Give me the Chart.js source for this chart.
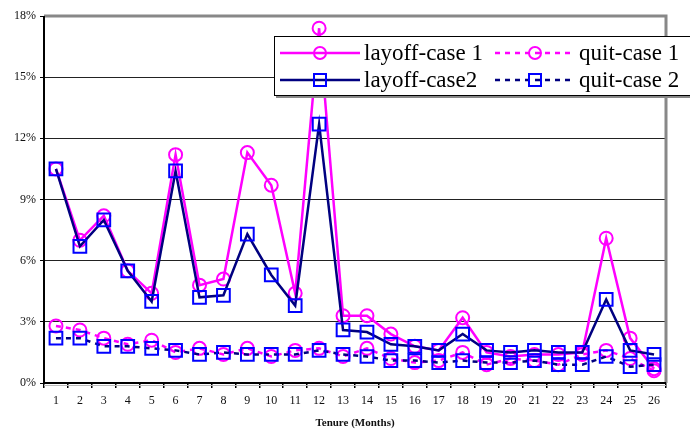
<!DOCTYPE html>
<html>
<head>
<meta charset="utf-8">
<script src="https://cdn.jsdelivr.net/npm/chart.js@4.4.1/dist/chart.umd.min.js"></script>
<style>
    html, body { margin: 0; padding: 0; background: #fff; }
    #wrap { position: relative; width: 690px; height: 430px; overflow: hidden; }
    #legend {
        position: absolute; left: 274px; top: 36px; width: 430px; height: 58px;
        background: #fff; border: 1px solid #000;
        box-shadow: 2px 2px 0 #888;
        font-family: "Liberation Serif", "Times New Roman", serif; font-size: 23px; color: #000;
    }
    .item { position: absolute; display: flex; align-items: center; height: 28px; }
    .item svg { margin-right: 4px; }
</style>
</head>
<body>
<div id="wrap">
    <canvas id="chart" width="690" height="430"></canvas>
    <div id="legend"></div>
</div>
<script>
// ===============================
// DATA
// ===============================
const months = ["1","2","3","4","5","6","7","8","9","10","11","12","13",
                "14","15","16","17","18","19","20","21","22","23","24","25","26"];

const layoffCase1 = [10.5, 7.0, 8.2, 5.5, 4.4, 11.2, 4.8, 5.1, 11.3, 9.7, 4.4, 17.4, 3.3,
                     3.3, 2.4, 1.8, 1.6, 3.2, 1.5, 1.3, 1.4, 1.4, 1.5, 7.1, 2.2, 0.7];
const quitCase1   = [2.8, 2.6, 2.2, 1.9, 2.1, 1.5, 1.7, 1.4, 1.7, 1.3, 1.6, 1.7, 1.3,
                     1.7, 1.2, 1.0, 1.1, 1.5, 0.9, 1.2, 1.1, 0.9, 1.4, 1.6, 1.2, 0.6];
const layoffCase2 = [10.5, 6.7, 8.0, 5.5, 4.0, 10.4, 4.2, 4.3, 7.3, 5.3, 3.8, 12.7, 2.6,
                     2.5, 1.9, 1.8, 1.6, 2.4, 1.6, 1.5, 1.6, 1.5, 1.5, 4.1, 1.6, 1.4];
const quitCase2   = [2.2, 2.2, 1.8, 1.8, 1.7, 1.6, 1.4, 1.5, 1.4, 1.4, 1.4, 1.6, 1.4,
                     1.3, 1.1, 1.1, 1.0, 1.1, 1.0, 1.0, 1.1, 0.9, 0.9, 1.3, 0.8, 0.9];

const yTicks = [0, 3, 6, 9, 12, 15, 18];

const MAGENTA = "#ff00ff";
const NAVY = "#000080";
const BLUE = "#0000ff";
const SERIF = '"Liberation Serif", "Times New Roman", serif';

// ===============================
// SERIES
// ===============================
function circleSeries(label, data, dash, order) {
    return {
        label, data, order,
        borderColor: MAGENTA,
        borderWidth: 2.5,
        borderDash: dash,
        pointStyle: "circle",
        pointRadius: 6.5,
        pointBorderWidth: 2,
        pointBorderColor: MAGENTA,
        pointBackgroundColor: "rgba(0,0,0,0)",
        tension: 0,
        fill: false
    };
}

function squareSeries(label, data, dash, order) {
    return {
        label, data, order,
        borderColor: NAVY,
        borderWidth: 2.5,
        borderDash: dash,
        pointStyle: "rect",
        pointRadius: 9,
        pointBorderWidth: 2,
        pointBorderColor: BLUE,
        pointBackgroundColor: "rgba(0,0,0,0)",
        tension: 0,
        fill: false
    };
}

// frame: gray top/right border, black left/bottom axes
const framePlugin = {
    id: "frame",
    beforeDatasetsDraw(chart) {
        const { ctx, chartArea: a } = chart;
        ctx.save();
        ctx.strokeStyle = "#888";
        ctx.lineWidth = 3;
        ctx.beginPath();
        ctx.moveTo(a.left, a.top);
        ctx.lineTo(a.right, a.top);
        ctx.lineTo(a.right, a.bottom);
        ctx.stroke();
        ctx.strokeStyle = "#bbb";
        ctx.lineWidth = 1;
        ctx.beginPath();
        ctx.moveTo(a.left, a.bottom + 2.5);
        ctx.lineTo(a.right, a.bottom + 2.5);
        ctx.stroke();
        ctx.strokeStyle = "#000";
        ctx.lineWidth = 2;
        ctx.beginPath();
        ctx.moveTo(a.left, a.top);
        ctx.lineTo(a.left, a.bottom);
        ctx.lineTo(a.right, a.bottom);
        ctx.stroke();
        ctx.restore();
    }
};

new Chart(document.getElementById("chart"), {
    type: "line",
    data: {
        labels: months,
        datasets: [
            circleSeries("layoff-case 1", layoffCase1, [], 2),
            circleSeries("quit-case 1", quitCase1, [5, 5], 3),
            squareSeries("layoff-case2", layoffCase2, [], 0),
            squareSeries("quit-case 2", quitCase2, [5, 5], 1)
        ]
    },
    options: {
        responsive: false,
        animation: false,
        layout: { padding: { left: 0, right: 24, top: 16, bottom: 0 } },
        plugins: {
            legend: { display: false },
            tooltip: { enabled: false }
        },
        scales: {
            x: {
                offset: true,
                grid: { offset: true, drawOnChartArea: false, drawTicks: true, tickLength: 5, color: "#000", lineWidth: 1.5 },
                border: { display: false },
                ticks: { color: "#111", font: { family: SERIF, size: 12 }, padding: 6, maxRotation: 0, autoSkip: false },
                title: { display: true, text: "Tenure (Months)", color: "#111", font: { family: SERIF, size: 11, weight: "bold" }, padding: { top: 4, bottom: 0 } },
                afterFit(scale) { scale.height = 47; }
            },
            y: {
                min: 0,
                max: 18,
                afterBuildTicks(scale) { scale.ticks = yTicks.map(v => ({ value: v })); },
                grid: {
                    color: ctx => (ctx.tick && (ctx.tick.value === 0 || ctx.tick.value === 18)) ? "rgba(0,0,0,0)" : "#222",
                    lineWidth: 1,
                    tickColor: "#000",
                    tickLength: 4
                },
                border: { display: false },
                ticks: { color: "#111", font: { family: SERIF, size: 12 }, padding: 4, callback: v => v + "%" },
                afterFit(scale) { scale.width = 44; }
            }
        }
    },
    plugins: [framePlugin]
});

// ===============================
// LEGEND (html)
// ===============================
function sample(color, markColor, dash, shape) {
    const dashAttr = dash ? 'stroke-dasharray="5 5"' : "";
    const mark = shape === "circle"
        ? `<circle cx="40" cy="14" r="6" fill="none" stroke="${markColor}" stroke-width="2"/>`
        : `<rect x="34" y="8" width="12" height="12" fill="none" stroke="${markColor}" stroke-width="2"/>`;
    return `<svg width="80" height="28"><line x1="0" y1="14" x2="80" y2="14" stroke="${color}" stroke-width="2.5" ${dashAttr}/>${mark}</svg>`;
}

const legendItems = [
    { text: "layoff-case 1", color: MAGENTA, mark: MAGENTA, dash: false, shape: "circle", left: 5, top: 2 },
    { text: "quit-case 1", color: MAGENTA, mark: MAGENTA, dash: true, shape: "circle", left: 220, top: 2 },
    { text: "layoff-case2", color: NAVY, mark: BLUE, dash: false, shape: "rect", left: 5, top: 29 },
    { text: "quit-case 2", color: NAVY, mark: BLUE, dash: true, shape: "rect", left: 220, top: 29 }
];

document.getElementById("legend").innerHTML = legendItems.map(it => `
    <div class="item" style="left:${it.left}px; top:${it.top}px">
        ${sample(it.color, it.mark, it.dash, it.shape)}<span>${it.text}</span>
    </div>`).join("");
</script>
</body>
</html>
